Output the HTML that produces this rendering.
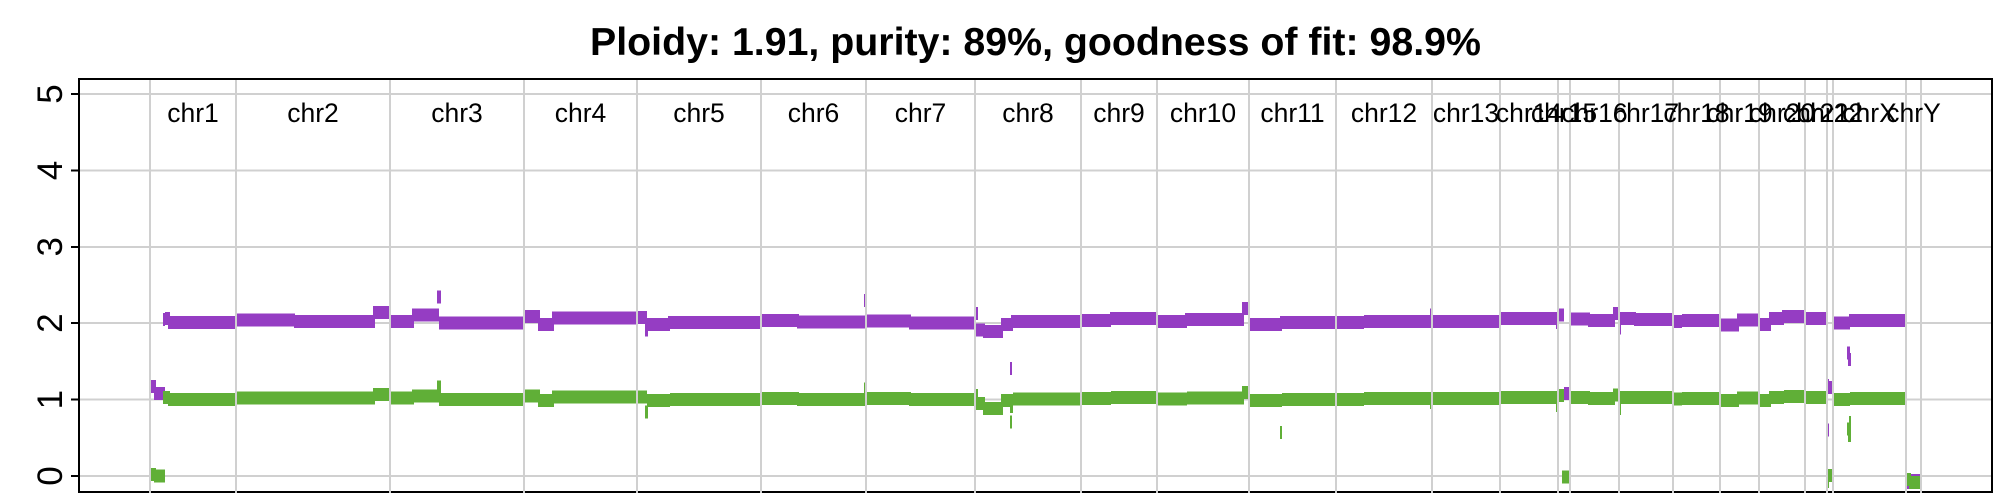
<!DOCTYPE html>
<html>
<head>
<meta charset="utf-8">
<title>Ploidy chart</title>
<style>
html,body{margin:0;padding:0;background:#fff;width:2000px;height:500px;overflow:hidden}
svg{display:block}
text{font-family:"Liberation Sans",sans-serif;fill:#000}
</style>
</head>
<body>
<svg id="chart" width="2000" height="500" viewBox="0 0 2000 500" xmlns="http://www.w3.org/2000/svg">
  <text x="1035.5" y="55" text-anchor="middle" font-size="39.3" font-weight="bold">Ploidy: 1.91, purity: 89%, goodness of fit: 98.9%</text>
  <g id="h-grid"></g>
  <g id="total-series"></g>
  <g id="minor-series"></g>
  <rect x="79" y="79" width="1913" height="413" fill="none" stroke="#000" stroke-width="2" shape-rendering="crispEdges"></rect>
  <g id="v-grid"></g>
  <g id="y-axis"></g>
  <g id="chrom-labels"></g>
</svg>
<script>
const yTicks = [0, 1, 2, 3, 4, 5];
const chromNames = ["chr1","chr2","chr3","chr4","chr5","chr6","chr7","chr8","chr9","chr10","chr11","chr12","chr13","chr14","chr15","chr16","chr17","chr18","chr19","chr20","chr21","chr22","chrX","chrY"];
const chromBounds = [0,86,240,374,487,611,716,825,931,1007,1099,1186,1282,1350,1408,1420,1469,1523,1570,1609,1655,1677,1683,1756,1771];

const totalStart = [1,4,13,15,18,86,144,223,241,262,287,289,375,388,402,488,495,497,518,612,647,714,717,759,826,826,833,851,861,860,932,960,1008,1035,1092,1100,1130,1187,1214,1280,1351,1406,1409,1414,1421,1438,1463,1470,1470,1484,1524,1532,1571,1587,1610,1619,1632,1656,1678,1678,1678,1684,1699,1697,1698,1761,1757];
const totalEnd = [6,15,15,20,85,145,225,239,264,289,291,373,390,404,486,497,498,520,610,649,715,715,761,824,828,835,853,863,930,862,961,1006,1037,1094,1098,1132,1185,1214,1349,1281,1407,1407,1414,1419,1440,1465,1468,1486,1471,1522,1532,1569,1589,1608,1621,1634,1654,1676,1682,1679,1679,1700,1755,1700,1701,1770,1759];
const totalCN = [1.17,1.08,2.05,2.06,2.01,2.04,2.02,2.14,2.02,2.11,2.34,2.00,2.09,1.98,2.07,2.075,1.91,1.98,2.01,2.035,2.015,2.30,2.03,2.00,2.13,1.91,1.89,1.98,2.025,1.41,2.035,2.06,2.02,2.05,2.19,1.98,2.01,2.01,2.02,2.11,2.06,2.01,2.11,1.08,2.055,2.035,2.13,2.06,1.94,2.05,2.02,2.035,1.975,2.04,1.98,2.06,2.09,2.06,1.16,1.185,0.60,2.00,2.035,1.61,1.525,-0.06,-0.085];

const minorStart = [1,4,13,18,86,223,241,262,287,289,375,388,402,488,497,495,520,612,647,714,717,759,826,826,833,851,860,860,863,932,961,1008,1037,1092,1100,1130,1132,1187,1214,1280,1351,1406,1409,1412,1421,1438,1463,1470,1470,1524,1532,1571,1587,1610,1619,1634,1656,1678,1678,1684,1700,1699,1697,1698,1757,1759];
const minorEnd = [6,15,20,85,225,239,264,289,291,373,390,404,486,497,520,498,610,649,715,715,761,824,828,835,853,863,863,862,930,961,1006,1037,1094,1098,1132,1132,1185,1214,1349,1281,1407,1407,1414,1419,1440,1465,1468,1522,1471,1532,1569,1589,1608,1621,1634,1654,1676,1682,1679,1700,1755,1701,1700,1701,1761,1770];
const minorCN = [0.02,0,1.03,1.0,1.02,1.065,1.02,1.05,1.165,1.0,1.05,0.99,1.035,1.035,0.99,0.84,1.0,1.015,1.0,1.14,1.015,1.0,1.055,0.95,0.885,0.99,0.91,0.71,1.01,1.015,1.03,1.01,1.02,1.09,0.99,0.57,1.0,1.0,1.015,0.96,1.03,0.92,1.055,-0.01,1.03,1.015,1.06,1.03,0.885,1.01,1.015,0.99,1.02,0.99,1.03,1.04,1.03,0.005,-0.07,1.0,1.015,0.70,0.615,0.53,-0.045,-0.085];

const NS = "http://www.w3.org/2000/svg";
const plotLeft = 79, plotRight = 1992;
const binMin = -71, binMax = 1842;
function xScale(b) { return plotLeft + (b - binMin) / (binMax - binMin) * (plotRight - plotLeft); }
function yScale(v) { return 476 - 76.4 * v; }

function mk(tag, attrs, parent) {
  const el = document.createElementNS(NS, tag);
  for (const k in attrs) el.setAttribute(k, attrs[k]);
  parent.appendChild(el);
  return el;
}

const hGrid = document.getElementById("h-grid");
const yAxis = document.getElementById("y-axis");
yTicks.forEach(function (t) {
  const gl = mk("line", {x1: plotLeft, x2: plotRight, y1: yScale(t), y2: yScale(t), stroke: "#d0d0d0", "stroke-width": 2, "shape-rendering": "crispEdges"}, hGrid);
  
  
  const tick = mk("line", {x1: plotLeft - 8, x2: plotLeft, y1: yScale(t), y2: yScale(t), stroke: "#000", "stroke-width": 2, "shape-rendering": "crispEdges"}, yAxis);
  
  
  const lab = mk("text", {transform: "translate(62," + yScale(t) + ") rotate(-90)", "text-anchor": "middle", "font-size": 35}, yAxis);
  lab.textContent = String(t);
  
  
});

function drawSeries(groupId, starts, ends, values, color, markName) {
  const g = document.getElementById(groupId);
  values.forEach(function (v, i) {
    const x0 = xScale(starts[i]), x1 = xScale(ends[i]);
    const r = mk("rect", {x: x0, y: yScale(v) - 6.5, width: x1 - x0, height: 13, fill: color, "shape-rendering": "crispEdges"}, g);
    
    
  });
}
drawSeries("total-series", totalStart, totalEnd, totalCN, "#953dc3", "total-copy-number-segment");
drawSeries("minor-series", minorStart, minorEnd, minorCN, "#60af37", "minor-copy-number-segment");

const vGrid = document.getElementById("v-grid");
chromBounds.forEach(function (b) {
  const l = mk("line", {x1: xScale(b), x2: xScale(b), y1: 80, y2: 493, stroke: "#d0d0d0", "stroke-width": 2, "shape-rendering": "crispEdges"}, vGrid);
  
  
});

const chromLabels = document.getElementById("chrom-labels");
chromNames.forEach(function (name, i) {
  const mid = (chromBounds[i] + chromBounds[i + 1]) / 2;
  const t = mk("text", {x: xScale(mid), y: 122, "text-anchor": "middle", "font-size": 26.5}, chromLabels);
  t.textContent = name;
  
  
});
</script>
</body>
</html>
